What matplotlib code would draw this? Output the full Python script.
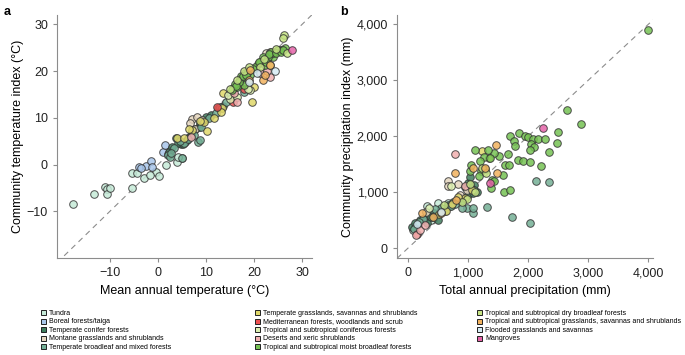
import matplotlib
matplotlib.use('Agg')
import matplotlib.pyplot as plt
from matplotlib.lines import Line2D

plt.rcParams['font.family'] = ['Liberation Sans', 'DejaVu Sans']

BIOMES = [
    'Tundra',
    'Boreal forests/taiga',
    'Temperate conifer forests',
    'Montane grasslands and shrublands',
    'Temperate broadleaf and mixed forests',
    'Temperate grasslands, savannas and shrublands',
    'Mediterranean forests, woodlands and scrub',
    'Tropical and subtropical coniferous forests',
    'Deserts and xeric shrublands',
    'Tropical and subtropical moist broadleaf forests',
    'Tropical and subtropical dry broadleaf forests',
    'Tropical and subtropical grasslands, savannas and shrublands',
    'Flooded grasslands and savannas',
    'Mangroves',
]

COLORS = ['#c6ead8', '#a8c6ea', '#3f7d5d', '#e6d6bf', '#74b096', '#e0d86a', '#ee5050',
          '#dcefb0', '#f2b0b0', '#76c253', '#c6e484', '#f2b25e', '#d6ecf4', '#e463a8']

# panel a: mean annual temperature vs community temperature index
temp_x = {
    0: [-17.6, -13.2, -11.0, -10.5, -10.5, -10.0, -5.3, -5.4, -4.4, -3.0, -0.5, 0.2, 1.6, 4.0, 5.0, 4.1, 2.2, -1.6],
    1: [-4.0, -2.5, -1.5, -1.2, 1.1, 2.0, -3.6, 1.4, 2.6],
    2: [2.3, 3.0, 3.7, 4.7, 5.7, 6.4, 7.1, 7.8, 8.5, 8.8, 9.5, 10.0, 4.2, 5.2, 6.0, 6.8, 11.0, 12.5, 13.6],
    3: [7.1, 8.1, 9.2, 7.8, 6.6, 22.4, 23.3],
    4: [2.0, 2.6, 8.4, 8.8, 5.0, 3.4, 5.5, 6.2, 7.4, 9.0, 10.6, 12.0, 13.0, 14.2, 15.0, 17.9, 2.8, 4.6],
    5: [3.9, 5.4, 7.1, 9.5, 10.2, 11.6, 13.3, 13.5, 19.6, 19.9, 13.1, 8.8, 6.4],
    6: [12.3, 17.8, 15.7],
    7: [15.0, 16.4, 19.2, 14.6, 18.8],
    8: [16.4, 21.2, 23.3, 6.8, 22.6, 15.9],
    9: [15.7, 16.8, 17.4, 18.1, 19.2, 20.9, 22.6, 23.3, 24.3, 25.4, 26.4, 17.8, 16.4, 20.2, 23.9, 21.9,
        16.0, 17.0, 18.5, 21.3, 22.2, 24.8, 25.8, 24.0, 22.9, 15.4, 17.2, 19.7, 21.0, 25.0, 23.5, 16.8,
        16.2, 17.6, 18.3, 22.4, 23.0, 24.6, 25.6, 26.0],
    10: [26.2, 26.1, 26.8, 16.4, 21.2, 23.3, 17.8, 15.0, 19.0, 22.0, 24.6],
    11: [21.9, 23.3, 19.2, 22.3, 18.9],
    12: [24.3, 19.0, 20.6],
    13: [27.8],
}
temp_y = {
    0: [-8.5, -6.2, -4.9, -5.2, -6.4, -5.0, -5.1, -1.9, -1.8, -2.9, -1.6, -2.4, 0.0, 0.6, 1.3, 1.6, 2.0, -2.2],
    1: [-0.5, -0.3, 0.7, -0.5, 2.7, 2.3, -0.8, 4.1, 2.9],
    2: [2.7, 3.8, 5.6, 4.5, 4.9, 5.8, 7.0, 7.7, 8.1, 8.8, 9.5, 10.2, 4.6, 4.5, 5.2, 6.2, 10.6, 12.0, 12.6],
    3: [9.7, 10.2, 9.5, 7.7, 8.9, 23.9, 24.1],
    4: [2.1, 1.6, 4.9, 5.2, 1.3, 3.6, 4.7, 5.4, 6.3, 8.0, 10.0, 11.1, 12.4, 13.4, 15.2, 15.6, 2.5, 5.0],
    5: [5.7, 5.7, 7.4, 9.1, 7.1, 9.9, 12.0, 15.4, 13.3, 16.5, 11.3, 9.4, 7.7],
    6: [12.4, 16.1, 13.4],
    7: [14.0, 14.5, 15.9, 14.8, 16.2],
    8: [13.3, 19.5, 18.8, 5.9, 19.9, 15.2],
    9: [16.3, 17.0, 18.1, 19.5, 19.1, 21.6, 22.4, 23.4, 24.1, 24.5, 24.9, 17.0, 16.5, 20.9, 23.1, 23.1,
        17.2, 18.4, 19.6, 21.9, 21.2, 24.3, 24.6, 23.8, 22.9, 16.0, 19.0, 20.4, 22.0, 24.4, 24.0, 17.6,
        16.8, 18.9, 19.2, 22.0, 23.6, 23.9, 24.0, 24.6],
    10: [27.7, 27.0, 23.8, 18.1, 20.9, 21.3, 19.9, 16.1, 20.8, 22.5, 24.7],
    11: [18.1, 21.3, 20.2, 19.1, 18.0],
    12: [19.9, 17.6, 19.6],
    13: [24.4],
}

# panel b: total annual precipitation vs community precipitation index
prec_x = {
    0: [324, 494, 665, 381, 120, 80],
    1: [150, 260, 420],
    2: [68, 125, 210, 324, 438, 551, 665, 750, 835, 920, 1006, 1091, 1148, 1108, 1006, 949, 1034, 324, 494,
        380, 600, 700, 880, 1050],
    3: [676, 676, 835, 977, 864, 300],
    4: [977, 1091, 1091, 1318, 1733, 2040, 2131, 2352, 560, 620, 780, 900, 260, 180, 100, 460, 720, 1100],
    5: [1233, 1347, 1060, 950, 830, 520, 640, 730],
    6: [160],
    7: [350, 720, 1250],
    8: [790, 142, 210, 280, 950],
    9: [1705, 1858, 1943, 2000, 2085, 2170, 2284, 2057, 2097, 2040, 1830, 1915, 2040, 1773, 1790, 1659, 1517,
        1619, 1688, 1585, 1602, 1705, 1432, 1330, 1261, 1119, 1375, 1193, 1392, 1403, 1432, 1028, 1045,
        3994, 2642, 2881, 2500, 2483, 2341, 2216, 1220, 1290, 1180],
    10: [1240, 1040, 1120, 980, 600, 900, 1300],
    11: [1472, 1477, 778, 1091, 1290, 239, 551, 807, 420],
    12: [150, 560],
    13: [2256, 1375],
}
prec_y = {
    0: [762, 804, 804, 506, 380, 330],
    1: [420, 520, 560],
    2: [387, 446, 506, 595, 625, 685, 774, 833, 863, 893, 952, 982, 1012, 1131, 1161, 1101, 1280, 446, 506,
        560, 700, 760, 850, 1080],
    3: [1196, 1107, 1155, 1048, 958, 640],
    4: [714, 625, 714, 744, 565, 458, 1202, 1179, 720, 660, 800, 720, 530, 470, 350, 700, 760, 1040],
    5: [1738, 1619, 1050, 900, 920, 620, 660, 800],
    6: [260],
    7: [720, 1120, 1420],
    8: [1685, 238, 327, 410, 1120],
    9: [2012, 2059, 2012, 1988, 1952, 1952, 1952, 1869, 1804, 1762, 1583, 1554, 1536, 1911, 1827, 1690, 1643,
        1494, 1494, 1315, 1000, 1048, 1702, 1762, 1631, 1762, 1613, 1554, 1077, 1226, 1197, 1375, 1494,
        3899, 2470, 2220, 2083, 1887, 1726, 1476, 1380, 1410, 1300],
    10: [1430, 1150, 1000, 880, 780, 820, 1350],
    11: [1845, 1339, 1339, 1429, 1429, 625, 625, 863, 560],
    12: [440, 650],
    13: [2155, 1167],
}


def draw_panel(ax, xs, ys, lo, hi):
    ax.plot([lo, hi], [lo, hi], ls=(0, (5, 4)), color='#8c8c8c', lw=0.8, zorder=1)
    for i in range(len(BIOMES)):
        ax.scatter(xs[i], ys[i], s=30, c=COLORS[i], edgecolors='#333333', linewidths=0.7,
                   alpha=0.85, zorder=2)
    for side in ['top', 'right']:
        ax.spines[side].set_visible(False)
    for side in ['left', 'bottom']:
        ax.spines[side].set_color('#8c8c8c')
        ax.spines[side].set_linewidth(0.8)
    ax.tick_params(colors='#8c8c8c', labelcolor='#222222', labelsize=9, length=3, width=0.8)


fig = plt.figure(figsize=(6.85, 3.55), dpi=100)
ax_a = fig.add_axes([0.0832, 0.273, 0.372, 0.685])
ax_b = fig.add_axes([0.5796, 0.273, 0.3737, 0.685])

draw_panel(ax_a, temp_x, temp_y, -21, 32)
ax_a.set_xlim(-21, 32)
ax_a.set_ylim(-20, 32)
ax_a.set_xticks([-10, 0, 10, 20, 30])
ax_a.set_xticklabels(['\u221210', '0', '10', '20', '30'])
ax_a.set_yticks([-10, 0, 10, 20, 30])
ax_a.set_yticklabels(['\u221210', '0', '10', '20', '30'])
ax_a.set_xlabel('Mean annual temperature (\u00b0C)', fontsize=9, labelpad=4)
ax_a.set_ylabel('Community temperature index (\u00b0C)', fontsize=9, labelpad=2)

draw_panel(ax_b, prec_x, prec_y, -180, 4170)
ax_b.set_xlim(-180, 4080)
ax_b.set_ylim(-175, 4170)
ax_b.set_xticks([0, 1000, 2000, 3000, 4000])
ax_b.set_xticklabels(['0', '1,000', '2,000', '3,000', '4,000'])
ax_b.set_yticks([0, 1000, 2000, 3000, 4000])
ax_b.set_yticklabels(['0', '1,000', '2,000', '3,000', '4,000'])
ax_b.set_xlabel('Total annual precipitation (mm)', fontsize=9, labelpad=4)
ax_b.set_ylabel('Community precipitation index (mm)', fontsize=9, labelpad=2)

fig.text(0.005, 0.965, 'a', fontsize=9, fontweight='bold', va='center')
fig.text(0.497, 0.965, 'b', fontsize=9, fontweight='bold', va='center')

handles = [Line2D([], [], ls='none', marker='s', markersize=3.6, markerfacecolor=c,
                  markeredgecolor='#222222', markeredgewidth=0.7) for c in COLORS]
groups = [(0, 5, 0.058), (5, 10, 0.371), (10, 14, 0.695)]
for start, stop, xpos in groups:
    fig.legend(handles[start:stop], BIOMES[start:stop], loc='upper left',
               bbox_to_anchor=(xpos, 0.128), frameon=False, fontsize=5,
               handlelength=0.8, handletextpad=0.5, labelspacing=0.22,
               borderpad=0, borderaxespad=0)

fig.savefig('out.png', dpi=100)
